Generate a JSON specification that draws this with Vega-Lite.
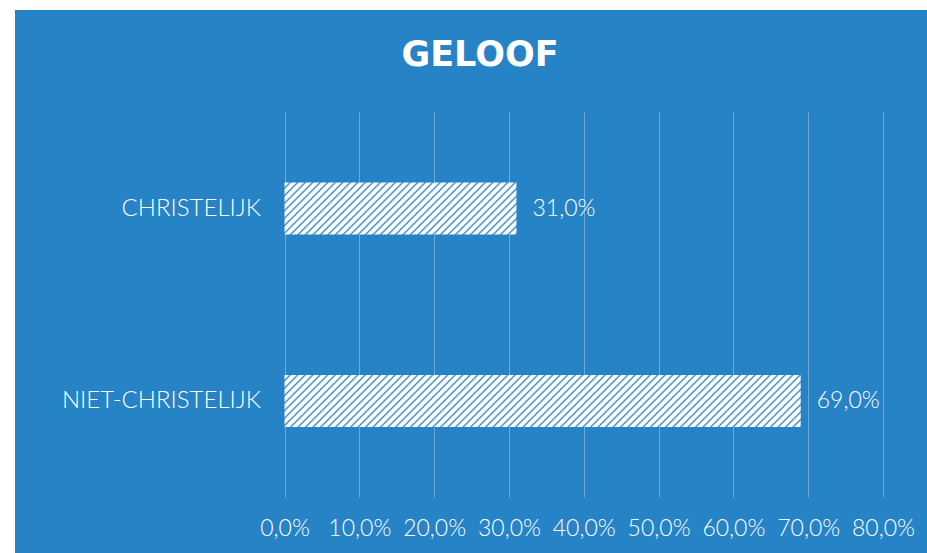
{
"$schema": "https://vega.github.io/schema/vega-lite/v6.json",
"width": 912,
"height": 543,
"autosize": {"type": "none"},
"padding": {"left": 15, "top": 10, "right": 0, "bottom": 0},
"background": "#ffffff",
"config": {
  "locale": {"number": {"decimal": ",", "thousands": ".", "grouping": [3], "currency": ["€ ", ""]}},
  "view": {"fill": "#2683c6", "stroke": null}
},
"title": {"text": "GELOOF", "font": "DejaVu Sans", "fontSize": 35, "fontWeight": "bold", "color": "#ffffff", "anchor": "middle", "frame": "group", "baseline": "alphabetic", "offset": -91, "dx": 9},
"data": {"values": [
  {"geloof": "CHRISTELIJK", "aandeel": 0.31},
  {"geloof": "NIET-CHRISTELIJK", "aandeel": 0.69}
]},
"layer": [
  {
    "mark": {"type": "bar"},
    "encoding": {
      "y": {"field": "geloof", "type": "nominal", "scale": {"domain": ["CHRISTELIJK", "NIET-CHRISTELIJK"], "paddingInner": 0.72987, "paddingOuter": 0.77532, "align": 0.5779},
        "axis": {"orient": "left", "offset": -269.5, "title": null, "ticks": false, "domain": false, "grid": false, "labelPadding": 24, "labelFont": "Lato", "labelFontSize": 24, "labelFontWeight": 300, "labelColor": "#ffffff", "labelLimit": 400}},
      "x": {"field": "aandeel", "type": "quantitative", "scale": {"domain": [-0.3603, 0.8588], "nice": false},
        "axis": {"orient": "bottom", "offset": -56, "title": null, "values": [0, 0.1, 0.2, 0.3, 0.4, 0.5, 0.6, 0.7, 0.8], "format": ".1%", "ticks": false, "tickSize": 0, "domain": false, "grid": false, "labelPadding": 31, "labelBaseline": "middle", "labelFont": "Lato", "labelFontSize": 23, "labelFontWeight": 300, "labelColor": "#ffffff", "labelFlush": false, "labelOverlap": false}},
      "fill": {
        "condition": {"test": "datum.geloof === 'CHRISTELIJK'", "value": {"gradient": "linear", "x1": 0, "y1": 0, "x2": 2.4635, "y2": 0.5524, "stops": [
{"offset":0,"color":"#fff"},{"offset":0.00625,"color":"#fff"},{"offset":0.009375,"color":"#2f86c7"},
{"offset":0.0125,"color":"#fff"},{"offset":0.01875,"color":"#fff"},{"offset":0.021875,"color":"#2f86c7"},
{"offset":0.025,"color":"#fff"},{"offset":0.03125,"color":"#fff"},{"offset":0.034375,"color":"#2f86c7"},
{"offset":0.0375,"color":"#fff"},{"offset":0.04375,"color":"#fff"},{"offset":0.046875,"color":"#2f86c7"},
{"offset":0.05,"color":"#fff"},{"offset":0.05625,"color":"#fff"},{"offset":0.059375,"color":"#2f86c7"},
{"offset":0.0625,"color":"#fff"},{"offset":0.06875,"color":"#fff"},{"offset":0.071875,"color":"#2f86c7"},
{"offset":0.075,"color":"#fff"},{"offset":0.08125,"color":"#fff"},{"offset":0.084375,"color":"#2f86c7"},
{"offset":0.0875,"color":"#fff"},{"offset":0.09375,"color":"#fff"},{"offset":0.096875,"color":"#2f86c7"},
{"offset":0.1,"color":"#fff"},{"offset":0.10625,"color":"#fff"},{"offset":0.109375,"color":"#2f86c7"},
{"offset":0.1125,"color":"#fff"},{"offset":0.11875,"color":"#fff"},{"offset":0.121875,"color":"#2f86c7"},
{"offset":0.125,"color":"#fff"},{"offset":0.13125,"color":"#fff"},{"offset":0.134375,"color":"#2f86c7"},
{"offset":0.1375,"color":"#fff"},{"offset":0.14375,"color":"#fff"},{"offset":0.146875,"color":"#2f86c7"},
{"offset":0.15,"color":"#fff"},{"offset":0.15625,"color":"#fff"},{"offset":0.159375,"color":"#2f86c7"},
{"offset":0.1625,"color":"#fff"},{"offset":0.16875,"color":"#fff"},{"offset":0.171875,"color":"#2f86c7"},
{"offset":0.175,"color":"#fff"},{"offset":0.18125,"color":"#fff"},{"offset":0.184375,"color":"#2f86c7"},
{"offset":0.1875,"color":"#fff"},{"offset":0.19375,"color":"#fff"},{"offset":0.196875,"color":"#2f86c7"},
{"offset":0.2,"color":"#fff"},{"offset":0.20625,"color":"#fff"},{"offset":0.209375,"color":"#2f86c7"},
{"offset":0.2125,"color":"#fff"},{"offset":0.21875,"color":"#fff"},{"offset":0.221875,"color":"#2f86c7"},
{"offset":0.225,"color":"#fff"},{"offset":0.23125,"color":"#fff"},{"offset":0.234375,"color":"#2f86c7"},
{"offset":0.2375,"color":"#fff"},{"offset":0.24375,"color":"#fff"},{"offset":0.246875,"color":"#2f86c7"},
{"offset":0.25,"color":"#fff"},{"offset":0.25625,"color":"#fff"},{"offset":0.259375,"color":"#2f86c7"},
{"offset":0.2625,"color":"#fff"},{"offset":0.26875,"color":"#fff"},{"offset":0.271875,"color":"#2f86c7"},
{"offset":0.275,"color":"#fff"},{"offset":0.28125,"color":"#fff"},{"offset":0.284375,"color":"#2f86c7"},
{"offset":0.2875,"color":"#fff"},{"offset":0.29375,"color":"#fff"},{"offset":0.296875,"color":"#2f86c7"},
{"offset":0.3,"color":"#fff"},{"offset":0.30625,"color":"#fff"},{"offset":0.309375,"color":"#2f86c7"},
{"offset":0.3125,"color":"#fff"},{"offset":0.31875,"color":"#fff"},{"offset":0.321875,"color":"#2f86c7"},
{"offset":0.325,"color":"#fff"},{"offset":0.33125,"color":"#fff"},{"offset":0.334375,"color":"#2f86c7"},
{"offset":0.3375,"color":"#fff"},{"offset":0.34375,"color":"#fff"},{"offset":0.346875,"color":"#2f86c7"},
{"offset":0.35,"color":"#fff"},{"offset":0.35625,"color":"#fff"},{"offset":0.359375,"color":"#2f86c7"},
{"offset":0.3625,"color":"#fff"},{"offset":0.36875,"color":"#fff"},{"offset":0.371875,"color":"#2f86c7"},
{"offset":0.375,"color":"#fff"},{"offset":0.38125,"color":"#fff"},{"offset":0.384375,"color":"#2f86c7"},
{"offset":0.3875,"color":"#fff"},{"offset":0.39375,"color":"#fff"},{"offset":0.396875,"color":"#2f86c7"},
{"offset":0.4,"color":"#fff"},{"offset":0.40625,"color":"#fff"},{"offset":0.409375,"color":"#2f86c7"},
{"offset":0.4125,"color":"#fff"},{"offset":0.41875,"color":"#fff"},{"offset":0.421875,"color":"#2f86c7"},
{"offset":0.425,"color":"#fff"},{"offset":0.43125,"color":"#fff"},{"offset":0.434375,"color":"#2f86c7"},
{"offset":0.4375,"color":"#fff"},{"offset":0.44375,"color":"#fff"},{"offset":0.446875,"color":"#2f86c7"},
{"offset":0.45,"color":"#fff"},{"offset":0.45625,"color":"#fff"},{"offset":0.459375,"color":"#2f86c7"},
{"offset":0.4625,"color":"#fff"},{"offset":0.46875,"color":"#fff"},{"offset":0.471875,"color":"#2f86c7"},
{"offset":0.475,"color":"#fff"},{"offset":0.48125,"color":"#fff"},{"offset":0.484375,"color":"#2f86c7"},
{"offset":0.4875,"color":"#fff"}
]}},
        "value": {"gradient": "linear", "x1": 0, "y1": 0, "x2": 1.1507, "y2": 0.11592, "stops": [
{"offset":0,"color":"#fff"},{"offset":0.00625,"color":"#fff"},{"offset":0.009375,"color":"#2f86c7"},
{"offset":0.0125,"color":"#fff"},{"offset":0.01875,"color":"#fff"},{"offset":0.021875,"color":"#2f86c7"},
{"offset":0.025,"color":"#fff"},{"offset":0.03125,"color":"#fff"},{"offset":0.034375,"color":"#2f86c7"},
{"offset":0.0375,"color":"#fff"},{"offset":0.04375,"color":"#fff"},{"offset":0.046875,"color":"#2f86c7"},
{"offset":0.05,"color":"#fff"},{"offset":0.05625,"color":"#fff"},{"offset":0.059375,"color":"#2f86c7"},
{"offset":0.0625,"color":"#fff"},{"offset":0.06875,"color":"#fff"},{"offset":0.071875,"color":"#2f86c7"},
{"offset":0.075,"color":"#fff"},{"offset":0.08125,"color":"#fff"},{"offset":0.084375,"color":"#2f86c7"},
{"offset":0.0875,"color":"#fff"},{"offset":0.09375,"color":"#fff"},{"offset":0.096875,"color":"#2f86c7"},
{"offset":0.1,"color":"#fff"},{"offset":0.10625,"color":"#fff"},{"offset":0.109375,"color":"#2f86c7"},
{"offset":0.1125,"color":"#fff"},{"offset":0.11875,"color":"#fff"},{"offset":0.121875,"color":"#2f86c7"},
{"offset":0.125,"color":"#fff"},{"offset":0.13125,"color":"#fff"},{"offset":0.134375,"color":"#2f86c7"},
{"offset":0.1375,"color":"#fff"},{"offset":0.14375,"color":"#fff"},{"offset":0.146875,"color":"#2f86c7"},
{"offset":0.15,"color":"#fff"},{"offset":0.15625,"color":"#fff"},{"offset":0.159375,"color":"#2f86c7"},
{"offset":0.1625,"color":"#fff"},{"offset":0.16875,"color":"#fff"},{"offset":0.171875,"color":"#2f86c7"},
{"offset":0.175,"color":"#fff"},{"offset":0.18125,"color":"#fff"},{"offset":0.184375,"color":"#2f86c7"},
{"offset":0.1875,"color":"#fff"},{"offset":0.19375,"color":"#fff"},{"offset":0.196875,"color":"#2f86c7"},
{"offset":0.2,"color":"#fff"},{"offset":0.20625,"color":"#fff"},{"offset":0.209375,"color":"#2f86c7"},
{"offset":0.2125,"color":"#fff"},{"offset":0.21875,"color":"#fff"},{"offset":0.221875,"color":"#2f86c7"},
{"offset":0.225,"color":"#fff"},{"offset":0.23125,"color":"#fff"},{"offset":0.234375,"color":"#2f86c7"},
{"offset":0.2375,"color":"#fff"},{"offset":0.24375,"color":"#fff"},{"offset":0.246875,"color":"#2f86c7"},
{"offset":0.25,"color":"#fff"},{"offset":0.25625,"color":"#fff"},{"offset":0.259375,"color":"#2f86c7"},
{"offset":0.2625,"color":"#fff"},{"offset":0.26875,"color":"#fff"},{"offset":0.271875,"color":"#2f86c7"},
{"offset":0.275,"color":"#fff"},{"offset":0.28125,"color":"#fff"},{"offset":0.284375,"color":"#2f86c7"},
{"offset":0.2875,"color":"#fff"},{"offset":0.29375,"color":"#fff"},{"offset":0.296875,"color":"#2f86c7"},
{"offset":0.3,"color":"#fff"},{"offset":0.30625,"color":"#fff"},{"offset":0.309375,"color":"#2f86c7"},
{"offset":0.3125,"color":"#fff"},{"offset":0.31875,"color":"#fff"},{"offset":0.321875,"color":"#2f86c7"},
{"offset":0.325,"color":"#fff"},{"offset":0.33125,"color":"#fff"},{"offset":0.334375,"color":"#2f86c7"},
{"offset":0.3375,"color":"#fff"},{"offset":0.34375,"color":"#fff"},{"offset":0.346875,"color":"#2f86c7"},
{"offset":0.35,"color":"#fff"},{"offset":0.35625,"color":"#fff"},{"offset":0.359375,"color":"#2f86c7"},
{"offset":0.3625,"color":"#fff"},{"offset":0.36875,"color":"#fff"},{"offset":0.371875,"color":"#2f86c7"},
{"offset":0.375,"color":"#fff"},{"offset":0.38125,"color":"#fff"},{"offset":0.384375,"color":"#2f86c7"},
{"offset":0.3875,"color":"#fff"},{"offset":0.39375,"color":"#fff"},{"offset":0.396875,"color":"#2f86c7"},
{"offset":0.4,"color":"#fff"},{"offset":0.40625,"color":"#fff"},{"offset":0.409375,"color":"#2f86c7"},
{"offset":0.4125,"color":"#fff"},{"offset":0.41875,"color":"#fff"},{"offset":0.421875,"color":"#2f86c7"},
{"offset":0.425,"color":"#fff"},{"offset":0.43125,"color":"#fff"},{"offset":0.434375,"color":"#2f86c7"},
{"offset":0.4375,"color":"#fff"},{"offset":0.44375,"color":"#fff"},{"offset":0.446875,"color":"#2f86c7"},
{"offset":0.45,"color":"#fff"},{"offset":0.45625,"color":"#fff"},{"offset":0.459375,"color":"#2f86c7"},
{"offset":0.4625,"color":"#fff"},{"offset":0.46875,"color":"#fff"},{"offset":0.471875,"color":"#2f86c7"},
{"offset":0.475,"color":"#fff"},{"offset":0.48125,"color":"#fff"},{"offset":0.484375,"color":"#2f86c7"},
{"offset":0.4875,"color":"#fff"},{"offset":0.49375,"color":"#fff"},{"offset":0.496875,"color":"#2f86c7"},
{"offset":0.5,"color":"#fff"},{"offset":0.50625,"color":"#fff"},{"offset":0.509375,"color":"#2f86c7"},
{"offset":0.5125,"color":"#fff"},{"offset":0.51875,"color":"#fff"},{"offset":0.521875,"color":"#2f86c7"},
{"offset":0.525,"color":"#fff"},{"offset":0.53125,"color":"#fff"},{"offset":0.534375,"color":"#2f86c7"},
{"offset":0.5375,"color":"#fff"},{"offset":0.54375,"color":"#fff"},{"offset":0.546875,"color":"#2f86c7"},
{"offset":0.55,"color":"#fff"},{"offset":0.55625,"color":"#fff"},{"offset":0.559375,"color":"#2f86c7"},
{"offset":0.5625,"color":"#fff"},{"offset":0.56875,"color":"#fff"},{"offset":0.571875,"color":"#2f86c7"},
{"offset":0.575,"color":"#fff"},{"offset":0.58125,"color":"#fff"},{"offset":0.584375,"color":"#2f86c7"},
{"offset":0.5875,"color":"#fff"},{"offset":0.59375,"color":"#fff"},{"offset":0.596875,"color":"#2f86c7"},
{"offset":0.6,"color":"#fff"},{"offset":0.60625,"color":"#fff"},{"offset":0.609375,"color":"#2f86c7"},
{"offset":0.6125,"color":"#fff"},{"offset":0.61875,"color":"#fff"},{"offset":0.621875,"color":"#2f86c7"},
{"offset":0.625,"color":"#fff"},{"offset":0.63125,"color":"#fff"},{"offset":0.634375,"color":"#2f86c7"},
{"offset":0.6375,"color":"#fff"},{"offset":0.64375,"color":"#fff"},{"offset":0.646875,"color":"#2f86c7"},
{"offset":0.65,"color":"#fff"},{"offset":0.65625,"color":"#fff"},{"offset":0.659375,"color":"#2f86c7"},
{"offset":0.6625,"color":"#fff"},{"offset":0.66875,"color":"#fff"},{"offset":0.671875,"color":"#2f86c7"},
{"offset":0.675,"color":"#fff"},{"offset":0.68125,"color":"#fff"},{"offset":0.684375,"color":"#2f86c7"},
{"offset":0.6875,"color":"#fff"},{"offset":0.69375,"color":"#fff"},{"offset":0.696875,"color":"#2f86c7"},
{"offset":0.7,"color":"#fff"},{"offset":0.70625,"color":"#fff"},{"offset":0.709375,"color":"#2f86c7"},
{"offset":0.7125,"color":"#fff"},{"offset":0.71875,"color":"#fff"},{"offset":0.721875,"color":"#2f86c7"},
{"offset":0.725,"color":"#fff"},{"offset":0.73125,"color":"#fff"},{"offset":0.734375,"color":"#2f86c7"},
{"offset":0.7375,"color":"#fff"},{"offset":0.74375,"color":"#fff"},{"offset":0.746875,"color":"#2f86c7"},
{"offset":0.75,"color":"#fff"},{"offset":0.75625,"color":"#fff"},{"offset":0.759375,"color":"#2f86c7"},
{"offset":0.7625,"color":"#fff"},{"offset":0.76875,"color":"#fff"},{"offset":0.771875,"color":"#2f86c7"},
{"offset":0.775,"color":"#fff"},{"offset":0.78125,"color":"#fff"},{"offset":0.784375,"color":"#2f86c7"},
{"offset":0.7875,"color":"#fff"},{"offset":0.79375,"color":"#fff"},{"offset":0.796875,"color":"#2f86c7"},
{"offset":0.8,"color":"#fff"},{"offset":0.80625,"color":"#fff"},{"offset":0.809375,"color":"#2f86c7"},
{"offset":0.8125,"color":"#fff"},{"offset":0.81875,"color":"#fff"},{"offset":0.821875,"color":"#2f86c7"},
{"offset":0.825,"color":"#fff"},{"offset":0.83125,"color":"#fff"},{"offset":0.834375,"color":"#2f86c7"},
{"offset":0.8375,"color":"#fff"},{"offset":0.84375,"color":"#fff"},{"offset":0.846875,"color":"#2f86c7"},
{"offset":0.85,"color":"#fff"},{"offset":0.85625,"color":"#fff"},{"offset":0.859375,"color":"#2f86c7"},
{"offset":0.8625,"color":"#fff"},{"offset":0.86875,"color":"#fff"},{"offset":0.871875,"color":"#2f86c7"},
{"offset":0.875,"color":"#fff"},{"offset":0.88125,"color":"#fff"},{"offset":0.884375,"color":"#2f86c7"},
{"offset":0.8875,"color":"#fff"},{"offset":0.89375,"color":"#fff"},{"offset":0.896875,"color":"#2f86c7"},
{"offset":0.9,"color":"#fff"},{"offset":0.90625,"color":"#fff"},{"offset":0.909375,"color":"#2f86c7"},
{"offset":0.9125,"color":"#fff"},{"offset":0.91875,"color":"#fff"},{"offset":0.921875,"color":"#2f86c7"},
{"offset":0.925,"color":"#fff"},{"offset":0.93125,"color":"#fff"},{"offset":0.934375,"color":"#2f86c7"},
{"offset":0.9375,"color":"#fff"},{"offset":0.94375,"color":"#fff"},{"offset":0.946875,"color":"#2f86c7"},
{"offset":0.95,"color":"#fff"}
]}
      }
    }
  },
  {
    "mark": {"type": "text", "align": "left", "baseline": "middle", "dx": 16, "font": "Lato", "fontSize": 23, "fontWeight": 300, "color": "#ffffff"},
    "encoding": {
      "y": {"field": "geloof", "type": "nominal", "scale": {"domain": ["CHRISTELIJK", "NIET-CHRISTELIJK"], "paddingInner": 0.72987, "paddingOuter": 0.77532, "align": 0.5779}},
      "x": {"field": "aandeel", "type": "quantitative", "scale": {"domain": [-0.3603, 0.8588], "nice": false},
        "axis": {"orient": "top", "offset": -102, "title": null, "values": [0, 0.1, 0.2, 0.3, 0.4, 0.5, 0.6, 0.7, 0.8], "labels": false, "domain": false, "grid": false, "ticks": true, "tickSize": -385, "tickColor": "#6aa9d9", "tickWidth": 1}},
      "text": {"field": "aandeel", "type": "quantitative", "format": ".1%"}
    }
  }
],
"resolve": {"axis": {"x": "independent"}}
}
